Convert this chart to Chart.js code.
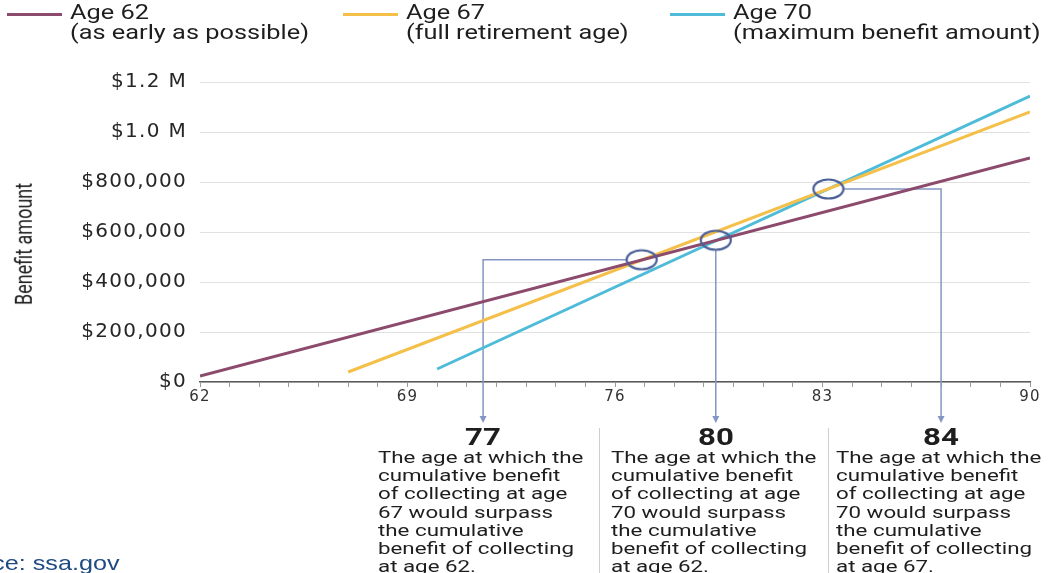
<!DOCTYPE html>
<html>
<head>
<meta charset="utf-8">
<title>Cumulative Social Security benefit by claiming age</title>
<script src="https://cdn.jsdelivr.net/npm/chart.js@4.4.1/dist/chart.umd.min.js"></script>
<style>
  body { margin: 0; background: #fff; overflow: hidden; font-family: Roboto, sans-serif; color: #1e1e1e; }
  #page { position: relative; width: 1051px; height: 573px; }
  #chartBox { position: absolute; left: 0; top: 0; width: 1051px; height: 573px; }
  .wide { position: absolute; white-space: nowrap; transform: scaleX(1.33); transform-origin: 0 0; }
  .swatch { position: absolute; top: 13px; width: 55px; height: 3px; }
  .legend { top: 3px; font-size: 19.5px; line-height: 19.5px; transform: scaleX(1.3); }
  .ytitle { position: absolute; left: 23px; top: 244px; font-size: 18px; white-space: nowrap;
            transform: translate(-50%, -50%) rotate(-90deg) scaleY(1.35); }
  .num { position: absolute; top: 425px; width: 100px; text-align: center; font-size: 24px; font-weight: 700;
         line-height: 24px; transform: scaleX(1.3); }
  .note { top: 448px; font-size: 16.8px; line-height: 18.2px; }
  .sep { position: absolute; top: 428px; width: 1px; height: 150px; background: #cfcfcf; }
  .source { position: absolute; right: 931px; top: 551px; font-family: "Liberation Sans", Arial, sans-serif;
            font-size: 21px; color: #1f4a82; white-space: nowrap; transform: scaleX(1.2); transform-origin: 100% 0; }
</style>
</head>
<body>
<div id="page">
  <div id="chartBox"><canvas id="benefitChart"></canvas></div>
  <div class="ytitle">Benefit amount</div>
  <div class="source">Source: ssa.gov</div>
</div>
<script>
// claiming ages and cumulative benefit (start and end of each line)
const seriesNames = ['Age 62', 'Age 67', 'Age 70'];
const seriesNotes = ['(as early as possible)', '(full retirement age)', '(maximum benefit amount)'];
const seriesColors = ['#8c4a6c', '#f4c04a', '#4ebcd8'];

const age62X = [62, 90];
const age62Y = [24000, 896000];
const age67X = [67, 90];
const age67Y = [40000, 1080000];
const age70X = [70, 90];
const age70Y = [52000, 1144000];

// break-even points (circled) and where their pointer turns down
const crossX = [76.9, 79.4, 83.2];
const crossY = [489000, 567000, 772000];
const elbowX = [71.55, 79.4, 87.0];
const crossLabels = ['77', '80', '84'];
const crossNotes = [
  ['The age at which the', 'cumulative benefit', 'of collecting at age', '67 would surpass', 'the cumulative', 'benefit of collecting', 'at age 62.'],
  ['The age at which the', 'cumulative benefit', 'of collecting at age', '70 would surpass', 'the cumulative', 'benefit of collecting', 'at age 62.'],
  ['The age at which the', 'cumulative benefit', 'of collecting at age', '70 would surpass', 'the cumulative', 'benefit of collecting', 'at age 67.']
];

const xTickLabels = [62, 69, 76, 83, 90];
const yTickLabels = ['$0', '$200,000', '$400,000', '$600,000', '$800,000', '$1.0 M', '$1.2 M'];

const toPoints = (xs, ys) => xs.map((x, i) => ({ x: x, y: ys[i] }));

// ring marker, a bit wider than tall like in the original
const ring = document.createElement('canvas');
ring.width = 34;
ring.height = 24;
const rc = ring.getContext('2d');
rc.strokeStyle = '#4b5f98';
rc.lineWidth = 2.2;
rc.beginPath();
rc.ellipse(17, 12, 15, 9.5, 0, 0, Math.PI * 2);
rc.stroke();

const tickFont = { family: '"DejaVu Sans", Verdana, sans-serif' };

// pointers from the circles down to the notes
const pointers = {
  id: 'pointers',
  beforeDraw(chart) {
    chart.ctx.letterSpacing = '1.3px';
  },
  beforeDatasetsDraw(chart) {
    const { ctx, chartArea } = chart;
    const x = chart.scales.x, y = chart.scales.y;
    const tipY = chartArea.bottom + 41;
    ctx.save();
    ctx.strokeStyle = '#8396c4';
    ctx.fillStyle = '#8396c4';
    ctx.lineWidth = 1.5;
    crossX.forEach((cx, i) => {
      const px = x.getPixelForValue(cx);
      const py = y.getPixelForValue(crossY[i]);
      const ex = x.getPixelForValue(elbowX[i]);
      ctx.beginPath();
      if (Math.abs(ex - px) < 1) {
        ctx.moveTo(ex, py + 10);
      } else {
        ctx.moveTo(px + (ex < px ? -15 : 15), py);
        ctx.lineTo(ex, py);
      }
      ctx.lineTo(ex, tipY - 5);
      ctx.stroke();
      ctx.beginPath();
      ctx.moveTo(ex - 3.5, tipY - 7);
      ctx.lineTo(ex + 3.5, tipY - 7);
      ctx.lineTo(ex, tipY);
      ctx.closePath();
      ctx.fill();
    });
    ctx.restore();
  }
};

const lineSet = (i, xs, ys) => ({
  label: seriesNames[i],
  data: toPoints(xs, ys),
  showLine: true,
  borderColor: seriesColors[i],
  borderWidth: 3,
  pointRadius: 0,
  order: 2
});

const chart = new Chart(document.getElementById('benefitChart'), {
  type: 'scatter',
  data: {
    datasets: [
      lineSet(0, age62X, age62Y),
      lineSet(1, age67X, age67Y),
      lineSet(2, age70X, age70Y),
      {
        label: 'Break-even',
        data: toPoints(crossX, crossY),
        pointStyle: ring,
        pointRadius: 15,
        showLine: false,
        order: 1
      }
    ]
  },
  options: {
    responsive: true,
    maintainAspectRatio: false,
    animation: false,
    layout: { padding: { top: 82, right: 21, bottom: 161, left: 0 } },
    plugins: {
      legend: { display: false },
      tooltip: { enabled: false }
    },
    scales: {
      x: {
        type: 'linear',
        min: 62,
        max: 90,
        afterFit: (scale) => { scale.height = 30; },
        ticks: {
          stepSize: 1,
          autoSkip: false,
          maxRotation: 0,
          padding: 1,
          color: '#333',
          font: { ...tickFont, size: 15 },
          callback: (v) => xTickLabels.includes(v) ? String(v) : ''
        },
        grid: { drawOnChartArea: false, drawTicks: true, tickLength: 5, color: '#9a9a9a' },
        border: { color: '#5a5a5a', width: 1.5 }
      },
      y: {
        min: 0,
        max: 1200000,
        afterFit: (scale) => { scale.width = 200; },
        ticks: {
          stepSize: 200000,
          padding: 13,
          color: '#262626',
          font: { ...tickFont, size: 20 },
          callback: (v) => yTickLabels[Math.round(v / 200000)]
        },
        grid: { color: '#e1e1e1', drawTicks: false },
        border: { display: false }
      }
    }
  },
  plugins: [pointers]
});

// legend and notes as page text, placed from the chart's own scales
const page = document.getElementById('page');
const legendX = [7, 343, 670];
seriesNames.forEach((name, i) => {
  const sw = document.createElement('div');
  sw.className = 'swatch';
  sw.style.left = legendX[i] + 'px';
  sw.style.background = seriesColors[i];
  page.appendChild(sw);
  const lab = document.createElement('div');
  lab.className = 'wide legend';
  lab.style.left = (legendX[i] + 63) + 'px';
  lab.innerHTML = name + '<br>' + seriesNotes[i];
  page.appendChild(lab);
});

const xs = chart.scales.x;
crossLabels.forEach((label, i) => {
  const ex = xs.getPixelForValue(elbowX[i]);
  const num = document.createElement('div');
  num.className = 'num';
  num.style.left = (ex - 50) + 'px';
  num.textContent = label;
  page.appendChild(num);
  const note = document.createElement('div');
  note.className = 'wide note';
  note.style.left = (ex - 105) + 'px';
  note.innerHTML = crossNotes[i].join('<br>');
  page.appendChild(note);
  if (i > 0) {
    const sep = document.createElement('div');
    sep.className = 'sep';
    sep.style.left = Math.round((ex + xs.getPixelForValue(elbowX[i - 1])) / 2) + 'px';
    page.appendChild(sep);
  }
});
</script>
</body>
</html>
